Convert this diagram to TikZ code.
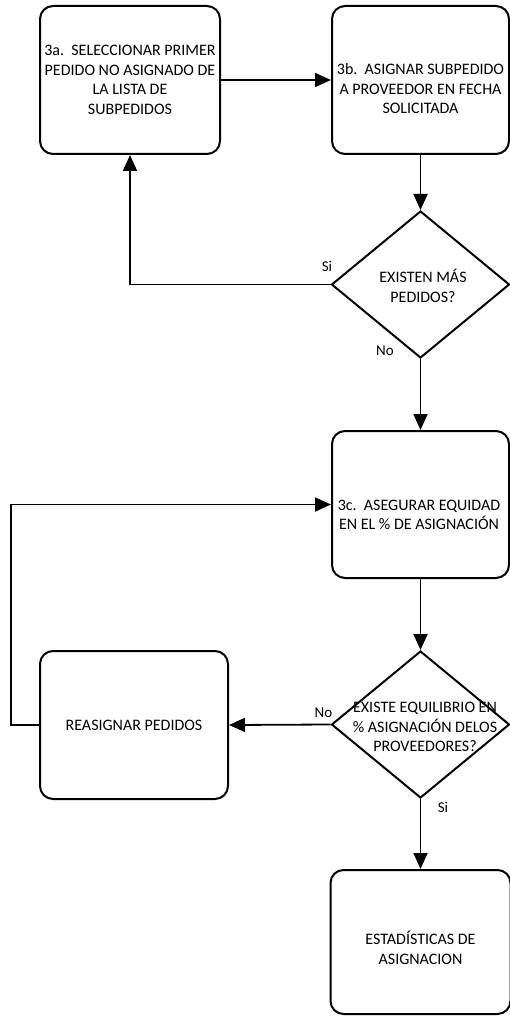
\documentclass[tikz,border=0pt]{standalone}
\usepackage{fontspec}
\setmainfont{Carlito}
\usetikzlibrary{arrows.meta,shapes.geometric}
\begin{document}
\begin{tikzpicture}[x=1pt,y=-1pt,
  every node/.style={font=\fontsize{16}{19.5}\selectfont},
  box/.style={draw, line width=2pt, rounded corners=13pt, inner sep=0pt},
  dia/.style={draw, diamond, line width=2pt, inner sep=0pt,
              minimum width=178pt, minimum height=147pt},
  txt/.style={align=center, inner sep=0pt},
  lbl/.style={inner sep=0pt, font=\fontsize{15}{18}\selectfont},
  arr/.style={line width=1.8pt, -{Triangle[length=16pt,width=14pt]}}]
\useasboundingbox (0,0) rectangle (509,1016);

% process boxes
\node[box, minimum width=180pt, minimum height=148pt, txt] (a) at (130,80)
  {3a.\ \ SELECCIONAR PRIMER\\PEDIDO NO ASIGNADO DE\\LA LISTA DE\\SUBPEDIDOS};
\node[box, minimum width=177pt, minimum height=148pt] (b) at (420.5,80) {};
\node[txt] (bt) at (420.5,89) {3b.\ \ ASIGNAR SUBPEDIDO\\A PROVEEDOR EN FECHA\\SOLICITADA};
\node[box, minimum width=177pt, minimum height=147pt] (c) at (420.5,504.5) {};
\node[txt] (ct) at (419,515) {3c.\ \ ASEGURAR EQUIDAD\\EN EL \% DE ASIGNACIÓN};
\node[box, minimum width=188pt, minimum height=148pt, txt] (r) at (134,725)
  {REASIGNAR PEDIDOS};
\node[box, minimum width=180pt, minimum height=144pt] (e) at (420.5,942) {};
\node[txt] (et) at (420.5,948) {ESTADÍSTICAS DE\\ASIGNACION};

% decisions
\node[dia] (d1) at (420.5,284.5) {};
\node[txt] (d1t) at (423,286) {EXISTEN MÁS\\PEDIDOS?};
\node[dia] (d2) at (420.5,724.5) {};
\node[txt] (d2t) at (425,727) {EXISTE EQUILIBRIO EN\\\% ASIGNACIÓN DELOS\\PROVEEDORES?};

% connectors
\draw[arr] (a.east) -- (b.west);
\draw[arr] (b.south) -- (d1.north);
\draw[arr] (d1.west) -| (a.south);
\draw[arr] (d1.south) -- (c.north);
\draw[arr] (c.south) -- (d2.north);
\draw[arr] (d2.west) -- (r.east);
\draw[arr] (r.west) -- ++(-28,0) |- (c.west);
\draw[arr] (d2.south) -- (e.north);

% branch labels
\node[lbl] (s1) at (327,266) {Si};
\node[lbl] (n1) at (385,351) {No};
\node[lbl] (n2) at (323.5,713) {No};
\node[lbl] (s2) at (443,807) {Si};
\end{tikzpicture}
\end{document}
